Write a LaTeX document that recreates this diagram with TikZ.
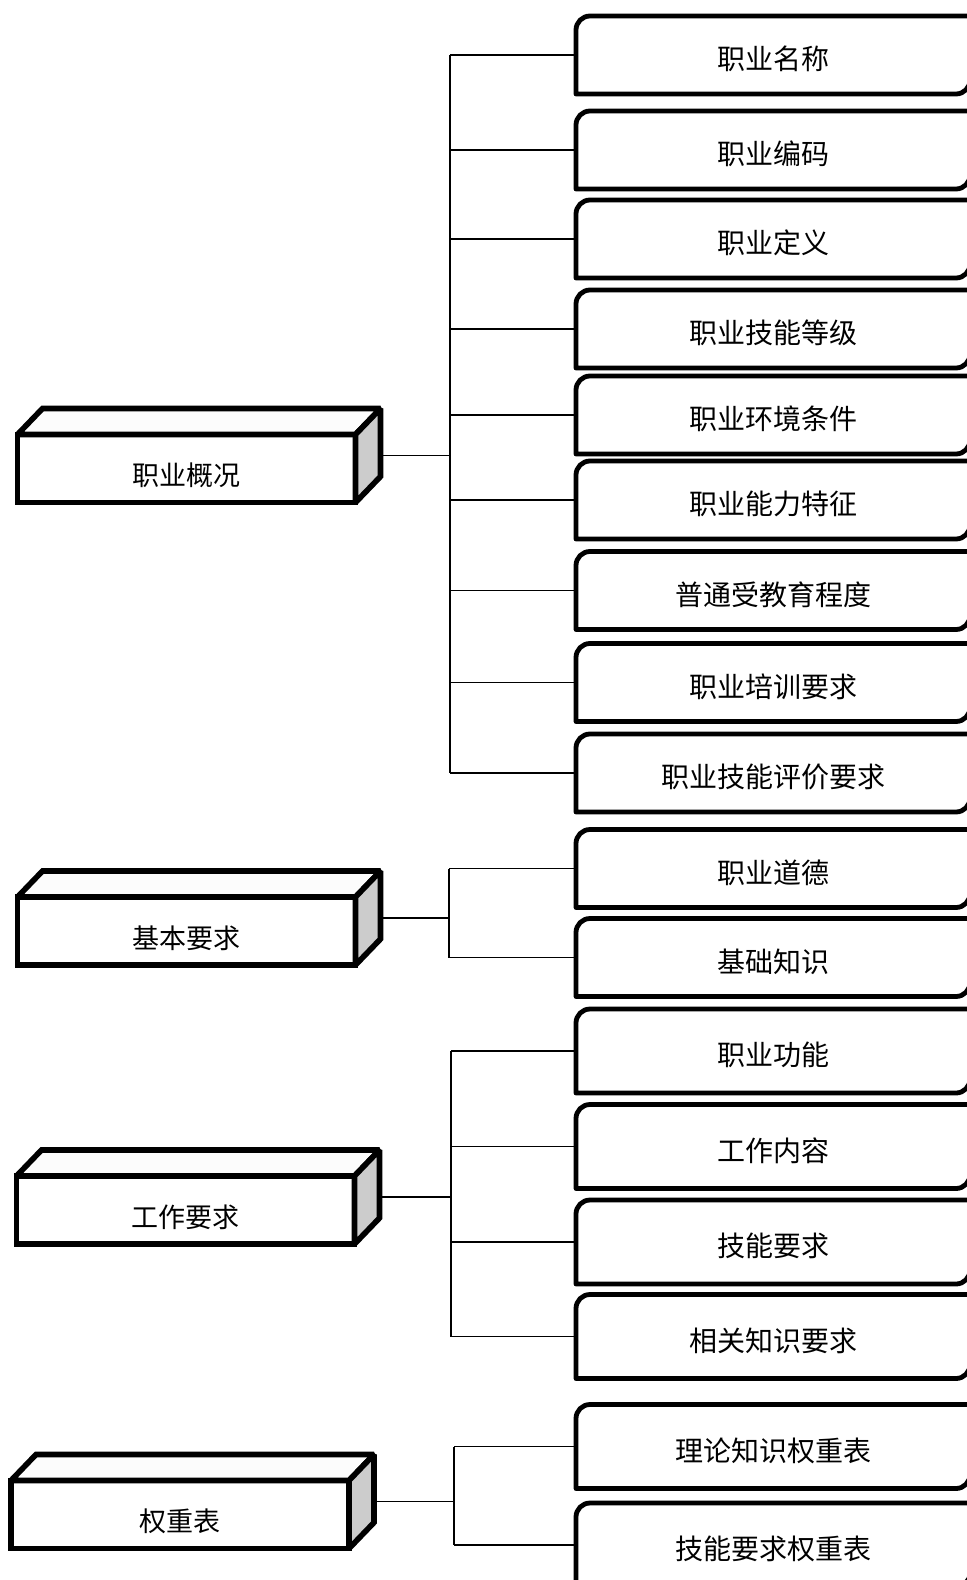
\documentclass[tikz,border=0pt]{standalone}
\usepackage{fontspec}
\newfontfamily\cjk{Noto Sans CJK SC}
\usetikzlibrary{calc}
\definecolor{sidegray}{RGB}{204,204,204}
\definecolor{topwhite}{RGB}{252,252,252}
\tikzset{
    gen-box/.style={
        draw, line width=2.8pt, fill=white, outer sep=0pt,
        minimum width=169pt, minimum height=34pt,
        font=\cjk\fontsize{13.5}{16}\selectfont,
        text height=1.85em, text depth=0.12em
    },
    leaf-box/.style={
        outer sep=0pt, inner sep=0pt, minimum width=197pt, minimum height=39pt,
        font=\cjk\fontsize{14}{17}\selectfont,
        text height=1.6em, text depth=0.12em
    },
    leaf-line/.style={line width=2.4pt, line join=round},
    face/.style={line width=2.8pt, line join=miter, miter limit=1.5},
    wire/.style={line width=0.85pt},
}
\newcommand{\leafframe}[1]{%
    \draw[leaf-line] (#1.south west) -- ([yshift=-7pt]#1.north west)
        arc[start angle=180, end angle=90, radius=7pt] -- (#1.north east)
        -- ([yshift=7pt]#1.south east) arc[start angle=0, end angle=-90, radius=7pt] -- cycle;
}
\newcommand{\cubefaces}[1]{%
    \draw[face, fill=topwhite] (#1.north west) -- ([shift={(25,-26)}]#1.north west)
        -- ([shift={(25,-26)}]#1.north east) -- (#1.north east) -- cycle;
    \draw[face, fill=sidegray] (#1.north east) -- ([shift={(25,-26)}]#1.north east)
        -- ([shift={(25,-26)}]#1.south east) -- (#1.south east) -- cycle;
}

\begin{document}
\begin{tikzpicture}[x=0.5pt, y=-0.5pt]

        \fill[white] (0,0) rectangle (966,1580);
        \useasboundingbox (0,0) rectangle (966,1580);

        % GROUP BOXES
        \node[gen-box] (GEN)  at (186.5,468.5) {职业概况};
        \node[gen-box] (BASE) at (186.5,931)   {基本要求};
        \node[gen-box] (WORK) at (185.5,1210)  {工作要求};
        \node[gen-box] (WGT)  at (180,1514.5)  {权重表};
        \cubefaces{GEN}
        \cubefaces{BASE}
        \cubefaces{WORK}
        \cubefaces{WGT}

        % LEAF BOXES
        \node[leaf-box] (L1)  at (773,55)    {职业名称};
        \node[leaf-box] (L2)  at (773,150)   {职业编码};
        \node[leaf-box] (L3)  at (773,239)   {职业定义};
        \node[leaf-box] (L4)  at (773,329)   {职业技能等级};
        \node[leaf-box] (L5)  at (773,415)   {职业环境条件};
        \node[leaf-box] (L6)  at (773,500)   {职业能力特征};
        \node[leaf-box] (L7)  at (773,590.5) {普通受教育程度};
        \node[leaf-box] (L8)  at (773,682.5) {职业培训要求};
        \node[leaf-box] (L9)  at (773,773)   {职业技能评价要求};
        \node[leaf-box] (L10) at (773,868.5) {职业道德};
        \node[leaf-box] (L11) at (773,957.5) {基础知识};
        \node[leaf-box, minimum height=42pt] (L12) at (773,1051)   {职业功能};
        \node[leaf-box, minimum height=42pt] (L13) at (773,1146.5) {工作内容};
        \node[leaf-box, minimum height=42pt] (L14) at (773,1242)   {技能要求};
        \node[leaf-box, minimum height=42pt] (L15) at (773,1336.5) {相关知识要求};
        \node[leaf-box, minimum height=42pt] (L16) at (773,1446.5) {理论知识权重表};
        \node[leaf-box, minimum height=42pt] (L17) at (773,1545)   {技能要求权重表};
        \leafframe{L1}  \leafframe{L2}  \leafframe{L3}  \leafframe{L4}
        \leafframe{L5}  \leafframe{L6}  \leafframe{L7}  \leafframe{L8}
        \leafframe{L9}  \leafframe{L10} \leafframe{L11} \leafframe{L12}
        \leafframe{L13} \leafframe{L14} \leafframe{L15} \leafframe{L16}
        \leafframe{L17}

        % BUS POINTS
        \coordinate (GENOUT)  at ($(GEN.east)+(25,-13)$);
        \coordinate (BASEOUT) at ($(BASE.east)+(25,-13)$);
        \coordinate (WORKOUT) at ($(WORK.east)+(25,-13)$);
        \coordinate (WGTOUT)  at ($(WGT.east)+(25,-13)$);
        \coordinate (BUS1) at (450,0);
        \coordinate (BUS2) at (449,0);
        \coordinate (BUS3) at (451,0);
        \coordinate (BUS4) at (454,0);

        % GROUP 1 CONNECTIONS
        \draw[wire] (GENOUT) -- (GENOUT -| BUS1);
        \draw[wire] (BUS1 |- L1.west) -- (BUS1 |- L9.west);
        \draw[wire] (BUS1 |- L1.west) -- (L1.west);
        \draw[wire] (BUS1 |- L2.west) -- (L2.west);
        \draw[wire] (BUS1 |- L3.west) -- (L3.west);
        \draw[wire] (BUS1 |- L4.west) -- (L4.west);
        \draw[wire] (BUS1 |- L5.west) -- (L5.west);
        \draw[wire] (BUS1 |- L6.west) -- (L6.west);
        \draw[wire] (BUS1 |- L7.west) -- (L7.west);
        \draw[wire] (BUS1 |- L8.west) -- (L8.west);
        \draw[wire] (BUS1 |- L9.west) -- (L9.west);

        % GROUP 2 CONNECTIONS
        \draw[wire] (BASEOUT) -- (BASEOUT -| BUS2);
        \draw[wire] (BUS2 |- L10.west) -- (BUS2 |- L11.west);
        \draw[wire] (BUS2 |- L10.west) -- (L10.west);
        \draw[wire] (BUS2 |- L11.west) -- (L11.west);

        % GROUP 3 CONNECTIONS
        \draw[wire] (WORKOUT) -- (WORKOUT -| BUS3);
        \draw[wire] (BUS3 |- L12.west) -- (BUS3 |- L15.west);
        \draw[wire] (BUS3 |- L12.west) -- (L12.west);
        \draw[wire] (BUS3 |- L13.west) -- (L13.west);
        \draw[wire] (BUS3 |- L14.west) -- (L14.west);
        \draw[wire] (BUS3 |- L15.west) -- (L15.west);

        % GROUP 4 CONNECTIONS
        \draw[wire] (WGTOUT) -- (WGTOUT -| BUS4);
        \draw[wire] (BUS4 |- L16.west) -- (BUS4 |- L17.west);
        \draw[wire] (BUS4 |- L16.west) -- (L16.west);
        \draw[wire] (BUS4 |- L17.west) -- (L17.west);

\end{tikzpicture}
\end{document}
